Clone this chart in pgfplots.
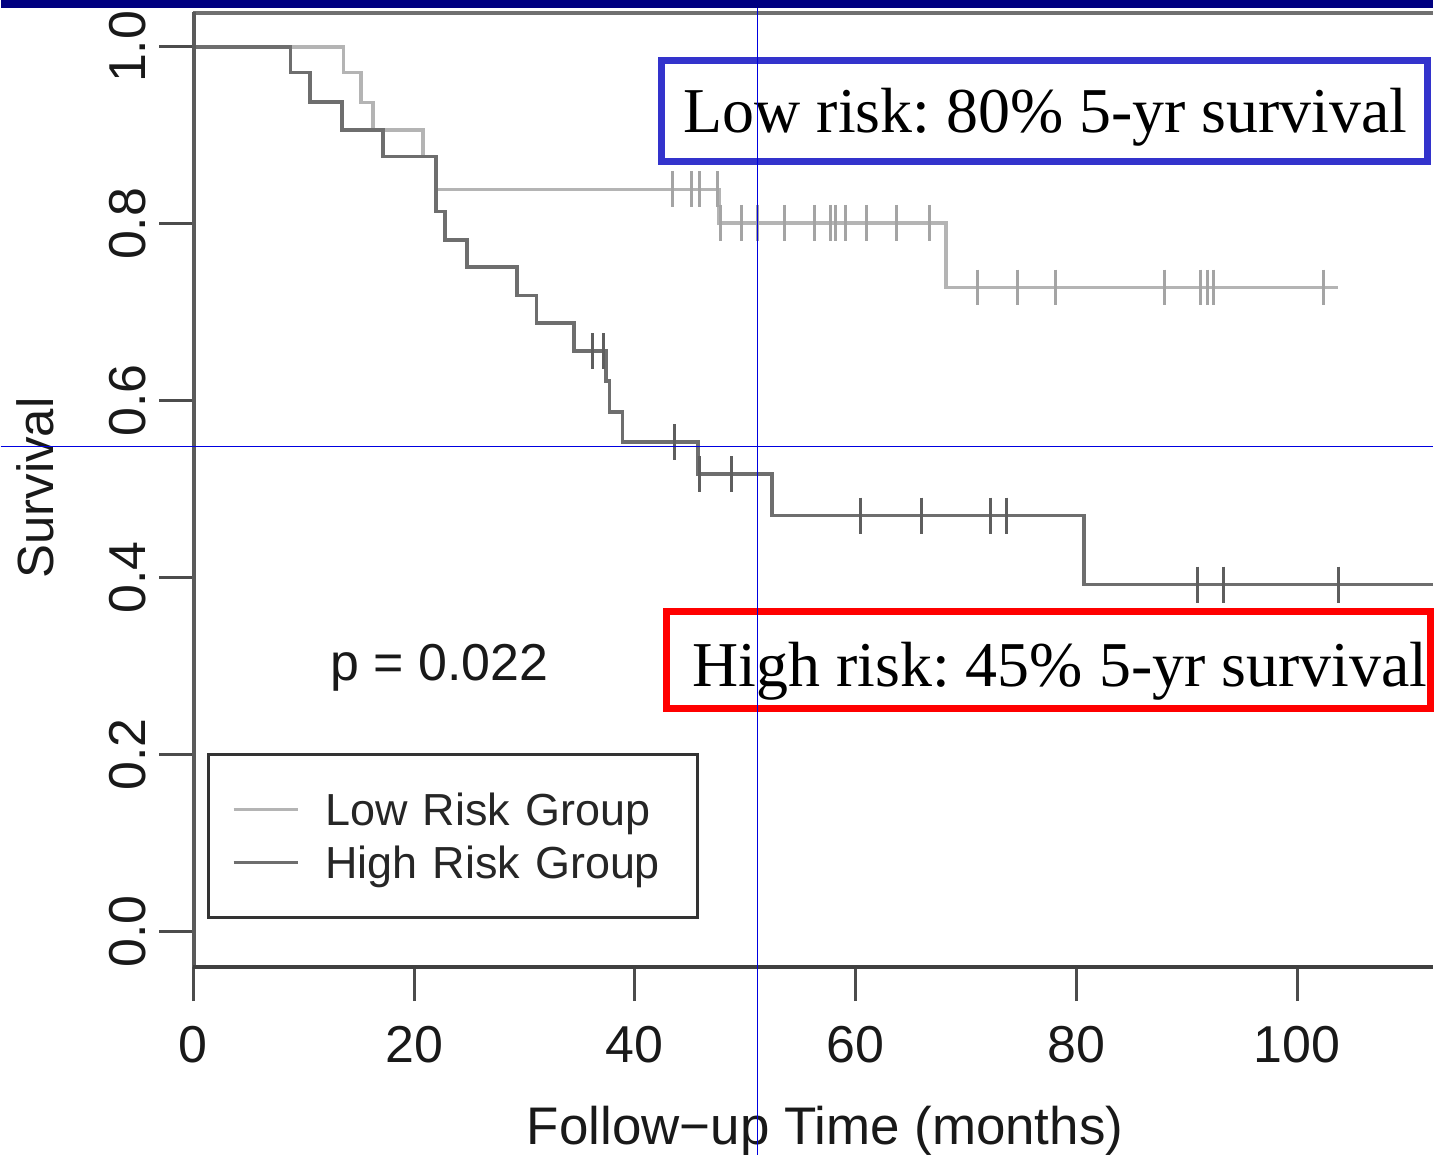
\documentclass[border=0pt]{standalone}
\usepackage{pgfplots}
\pgfplotsset{compat=1.18}
\usepackage{fontspec}
\setmainfont{Liberation Sans}
\newfontfamily\timesfont{Liberation Serif}
\definecolor{lowc}{HTML}{B4B4B4}
\definecolor{lowm}{HTML}{A4A4A4}
\definecolor{highc}{HTML}{6E6E6E}
\definecolor{highm}{HTML}{5E5E5E}
\definecolor{navybar}{HTML}{000080}
\definecolor{boxblue}{HTML}{3333CC}
\definecolor{boxred}{HTML}{FF0000}
\definecolor{cross}{HTML}{0000E0}
\definecolor{frameL}{HTML}{5A5A5A}
\definecolor{frameB}{HTML}{404040}
\definecolor{frameT}{HTML}{707070}
\frenchspacing
\begin{document}
\begin{tikzpicture}
\begin{scope}[x=0.5pt,y=-0.5pt]
\useasboundingbox (0,0) rectangle (1435,1157);
\fill[white] (0,0) rectangle (1435,1157);
\end{scope}
\begin{axis}[
  at={(96.5pt,-484.5pt)}, anchor=south west,
  scale only axis, width=621pt, height=478.5pt,
  xmin=0, xmax=112.3, ymin=-0.0406, ymax=1.0395,
  axis line style={draw=none},
  xtick={0,20,40,60,80,100},
  ytick={0,0.2,0.4,0.6,0.8,1.0},
  yticklabels={0.0,0.2,0.4,0.6,0.8,1.0},
  xtick pos=left, ytick pos=left,
  tick align=outside, major tick length=17pt,
  tick style={draw=black!70, line width=1.5pt},
  /pgf/number format/assume math mode=true,
  ticklabel style={font=\fontsize{26}{31}\selectfont, text=black!90},
  yticklabel style={rotate=90, anchor=south},
  xticklabel shift=9pt,
  yticklabel shift=3pt,
  legend cell align=left,
  legend image code/.code={\draw[line width=1.5pt,#1] (0pt,0pt) -- (32pt,0pt); \path[draw=none] (0pt,0pt) -- (44pt,0pt);},
  legend style={at={(rel axis cs:0.0109,0.0507)}, anchor=south west,
    draw=black!80, line width=1.5pt, fill=white,
    font=\fontsize{22.5}{27}\selectfont, text=black!85,
    inner xsep=12pt, inner ysep=14.5pt, row sep=0.5pt,
    nodes={inner sep=2pt, text height=19pt, text depth=3pt, text width=172.5pt}},
]
\addplot[const plot, color=lowc, line width=1.8pt] table[row sep=\\]{
x y\\
0 1\\
13.6 0.971\\
15.2 0.937\\
16.3 0.906\\
20.8 0.876\\
22.0 0.839\\
47.6 0.801\\
68.2 0.728\\
103.7 0.728\\
};
\addlegendentry{Low Risk Group}
\addplot[const plot, color=highc, line width=1.8pt] table[row sep=\\]{
x y\\
0 1\\
8.8 0.971\\
10.6 0.938\\
13.5 0.906\\
17.2 0.876\\
22.0 0.814\\
22.8 0.782\\
24.8 0.751\\
29.3 0.719\\
31.1 0.688\\
34.5 0.656\\
37.4 0.622\\
37.7 0.587\\
38.9 0.553\\
45.7 0.517\\
52.4 0.470\\
80.7 0.392\\
112.3 0.392\\
};
\addlegendentry{High Risk Group}
\addplot[only marks, mark=|, mark size=9pt, color=lowm, mark options={line width=1.5pt}, forget plot] table[row sep=\\]{
x y\\
43.4 0.839\\
45.1 0.839\\
45.9 0.839\\
47.5 0.839\\
47.8 0.801\\
49.7 0.801\\
51.1 0.801\\
53.6 0.801\\
56.3 0.801\\
57.7 0.801\\
58.2 0.801\\
59.1 0.801\\
61.0 0.801\\
63.7 0.801\\
66.7 0.801\\
71.0 0.728\\
74.7 0.728\\
78.1 0.728\\
88.0 0.728\\
91.2 0.728\\
91.9 0.728\\
92.4 0.728\\
102.4 0.728\\
};
\addplot[only marks, mark=|, mark size=9pt, color=highm, mark options={line width=1.5pt}, forget plot] table[row sep=\\]{
x y\\
36.2 0.656\\
37.2 0.656\\
43.6 0.553\\
45.9 0.517\\
48.8 0.517\\
60.4 0.470\\
66.0 0.470\\
72.2 0.470\\
73.7 0.470\\
91.0 0.392\\
93.3 0.392\\
103.7 0.392\\
};
\end{axis}
\begin{scope}[x=0.5pt,y=-0.5pt]
% frame
\draw[frameT, line width=2pt] (193,13) -- (1435,13);
\draw[frameL, line width=2pt] (194,12) -- (194,969);
\draw[frameB, line width=2pt] (193,969) -- (1435,969);
% labels
\node[rotate=90, font=\fontsize{25.5}{30}\selectfont, text=black!90] at (35,489) {Survival};
\node[font=\fontsize{26.5}{31}\selectfont, text=black!90] at (826,1133) {Follow−up Time (months)};
\node[anchor=base west, inner sep=0, font=\fontsize{26}{31}\selectfont, text=black!90] at (330,682) {p = 0.022};
% annotation boxes
\draw[boxblue, line width=3.5pt, fill=white] (662.5,61) rectangle (1429.5,161.5);
\node[anchor=base west, inner sep=0, font=\timesfont\fontsize{32}{38}\selectfont] at (684,133) {Low risk: 80\% 5-yr survival};
\draw[boxred, line width=3.5pt, fill=white] (667,612.5) rectangle (1432,709.5);
\node[anchor=base west, inner sep=0, font=\timesfont\fontsize{32}{38}\selectfont] at (693,688) {High risk: 45\% 5-yr survival};
% top bar and crosshair
\fill[navybar] (0,0) rectangle (1435,8);
\draw[cross, line width=0.6pt] (758.5,8) -- (758.5,1157);
\draw[cross, line width=0.6pt] (0,447.5) -- (1435,447.5);
\end{scope}
\end{tikzpicture}
\end{document}
